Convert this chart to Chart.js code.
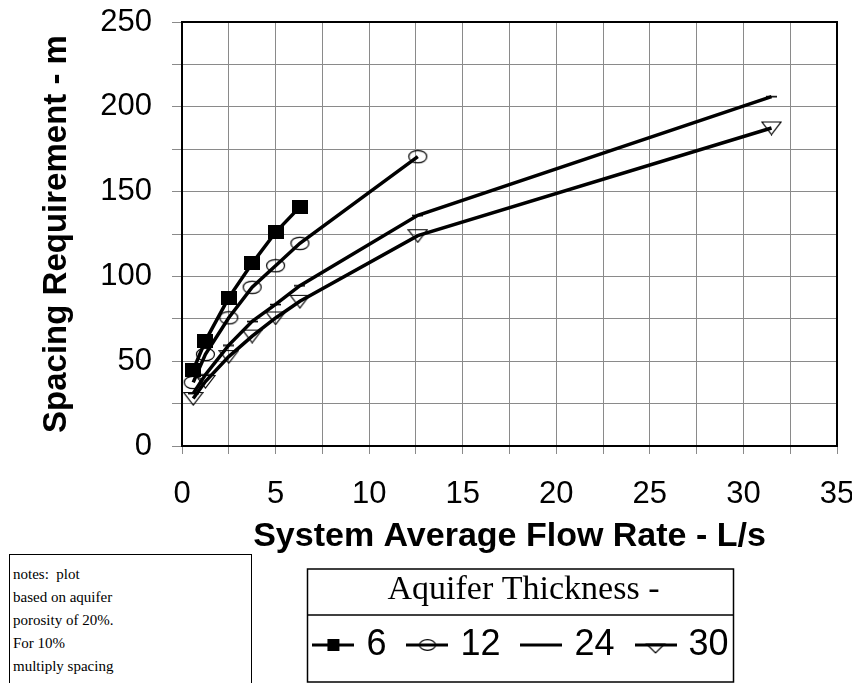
<!DOCTYPE html>
<html><head><meta charset="utf-8">
<script src="https://cdn.jsdelivr.net/npm/chart.js@4.4.1/dist/chart.umd.min.js"></script>
<style>
html,body{margin:0;padding:0;background:#fff;}
#wrap{position:relative;width:852px;height:683px;overflow:hidden;background:#fff;}
#c{position:absolute;left:0;top:0;}
#notes{position:absolute;left:9px;top:554px;width:243px;height:170px;border:1.5px solid #000;box-sizing:border-box;
  font-family:'Liberation Serif','Times New Roman',serif;font-size:15px;line-height:23px;padding:8px 0 0 3px;color:#000;background:#fff;}
</style></head>
<body><div id="wrap"><canvas id="c" width="852" height="683"></canvas>
<div id="notes">notes:&nbsp; plot<br>based on aquifer<br>porosity of 20%.<br>For 10%<br>multiply spacing</div></div>
<script>
// ---- data ----
const flowRate = [0.6, 1.25, 2.5, 3.75, 5.0, 6.3, 12.6, 31.5];
const thickness6 = [44.8, 62, 87.5, 107.7, 126, 141];
const thickness12 = [37.5, 54, 75.6, 93.6, 106.3, 119.5, 170.6];
const thickness24 = [31, 42, 59.5, 73.5, 83.5, 94.5, 136, 206];
const thickness30 = [28, 38, 52.7, 64.8, 75.5, 85.3, 124, 187.5];
const seriesLabels = ['6', '12', '24', '30'];
const legendTitle = 'Aquifer Thickness -';
const xTitle = 'System Average Flow Rate - L/s';
const yTitle = 'Spacing Requirement - m';

const SANS = "'Liberation Sans', Arial, sans-serif";
const SERIF = "'Liberation Serif', 'Times New Roman', serif";

function mk(w, h, draw) {
  const c = document.createElement('canvas');
  c.width = w; c.height = h;
  const g = c.getContext('2d');
  g.strokeStyle = '#000'; g.fillStyle = '#000';
  draw(g, w, h);
  return c;
}
// plot markers
const mSquare = mk(16, 14, g => g.fillRect(0, 0, 16, 14));
const mEllipse = mk(21, 15, g => { g.lineWidth = 1.2; g.beginPath(); g.ellipse(10.5, 7.5, 9, 6.2, 0, 0, Math.PI * 2); g.stroke(); });
const mDash = mk(11, 3, g => g.fillRect(0, 0.8, 11, 1.6));
const mTriangle = mk(21, 15, g => { g.lineWidth = 1.2; g.beginPath(); g.moveTo(1, 1.5); g.lineTo(20, 1.5); g.lineTo(10.5, 14); g.closePath(); g.stroke(); });

// legend symbols (line + marker)
function legendIcon(kind) {
  return mk(42, 22, g => {
    g.lineWidth = 3; g.beginPath(); g.moveTo(0, 11); g.lineTo(42, 11); g.stroke();
    g.lineWidth = 1.2;
    if (kind === 'square') g.fillRect(15, 5, 12, 12);
    if (kind === 'ellipse') { g.beginPath(); g.ellipse(21, 11, 8, 5.3, 0, 0, Math.PI * 2); g.stroke(); }
    if (kind === 'triangle') { g.beginPath(); g.moveTo(12, 10); g.lineTo(30, 10); g.lineTo(21, 19); g.closePath(); g.stroke(); }
  });
}
const legendIcons = [legendIcon('square'), legendIcon('ellipse'), legendIcon('line'), legendIcon('triangle')];

const pts = ys => ys.map((y, i) => ({ x: flowRate[i], y: y }));

function ds(label, ys, marker) {
  return {
    label: label, data: pts(ys), borderColor: '#000', backgroundColor: '#000',
    borderWidth: 3.5, tension: 0, pointStyle: marker, pointRadius: 5, pointHoverRadius: 5,
    fill: false
  };
}

const framePlugin = {
  id: 'frame',
  afterLayout(chart) {
    const lg = chart.legend;
    if (lg) { lg.left += 14; lg.right += 14; }
  },
  afterDraw(chart) {
    const ctx = chart.ctx, a = chart.chartArea;
    ctx.save();
    ctx.strokeStyle = '#000';
    ctx.lineWidth = 2;
    ctx.strokeRect(a.left, a.top, a.right - a.left, a.bottom - a.top);
    const lg = chart.legend;
    const cx = (lg.left + lg.right) / 2;
    const L = cx - 216, R = cx + 210, T = lg.top, S = lg.top + 46, B = lg.top + 113;
    ctx.lineWidth = 1.5;
    ctx.strokeRect(L, T, R - L, B - T);
    ctx.beginPath(); ctx.moveTo(L, S); ctx.lineTo(R, S); ctx.stroke();
    ctx.restore();
  }
};

new Chart(document.getElementById('c'), {
  type: 'line',
  data: {
    datasets: [
      ds(seriesLabels[0], thickness6, mSquare),
      ds(seriesLabels[1], thickness12, mEllipse),
      ds(seriesLabels[2], thickness24, mDash),
      ds(seriesLabels[3], thickness30, mTriangle)
    ]
  },
  options: {
    responsive: false,
    animation: false,
    events: [],
    layout: { padding: { top: 22, right: 15, bottom: 10, left: 0 } },
    plugins: {
      tooltip: { enabled: false },
      legend: {
        display: true,
        position: 'bottom',
        fullSize: false,
        align: 'center',
        labels: {
          usePointStyle: true,
          pointStyleWidth: 30,
          padding: 26,
          color: '#000',
          font: { family: SANS, size: 36 },
          generateLabels: chart => chart.data.datasets.map((d, i) => ({
            text: d.label, pointStyle: legendIcons[i], fillStyle: '#000', strokeStyle: '#000',
            lineWidth: 0, hidden: false, datasetIndex: i, rotation: 0, fontColor: '#000'
          }))
        },
        title: {
          display: true, text: legendTitle, color: '#000',
          font: { family: SERIF, size: 34, lineHeight: 28 / 34 },
          padding: { top: 4, bottom: 0 }
        }
      }
    },
    scales: {
      x: {
        type: 'linear', min: 0, max: 35,
        afterFit: s => { s.height = 123; s.paddingLeft = 0; s.paddingRight = 0; },
        ticks: {
          stepSize: 2.5, maxTicksLimit: 100, autoSkip: false, maxRotation: 0,
          color: '#000', padding: 22, font: { family: SANS, size: 31 },
          callback: v => (v % 5 === 0 ? String(v) : '')
        },
        grid: { color: '#8a8a8a', lineWidth: 1, tickLength: 8, tickColor: '#8a8a8a' },
        border: { display: true, color: '#000', width: 2 },
        title: {
          display: true, text: xTitle, color: '#000',
          font: { family: SANS, size: 34, weight: 'bold' },
          padding: { top: 0, bottom: 12 }
        }
      },
      y: {
        type: 'linear', min: 0, max: 250,
        afterFit: s => { s.width = 182; s.paddingTop = 0; s.paddingBottom = 0; },
        ticks: {
          stepSize: 25, maxTicksLimit: 100, autoSkip: false,
          color: '#000', padding: 20, font: { family: SANS, size: 31 },
          callback: v => (v % 50 === 0 ? String(v) : '')
        },
        grid: { color: '#8a8a8a', lineWidth: 1, tickLength: 10, tickColor: '#8a8a8a' },
        border: { display: true, color: '#000', width: 2 },
        title: {
          display: true, text: yTitle, color: '#000',
          font: { family: SANS, size: 33, weight: 'bold' },
          padding: { top: 37, bottom: 0 }
        }
      }
    }
  },
  plugins: [framePlugin]
});
</script>
</body></html>
